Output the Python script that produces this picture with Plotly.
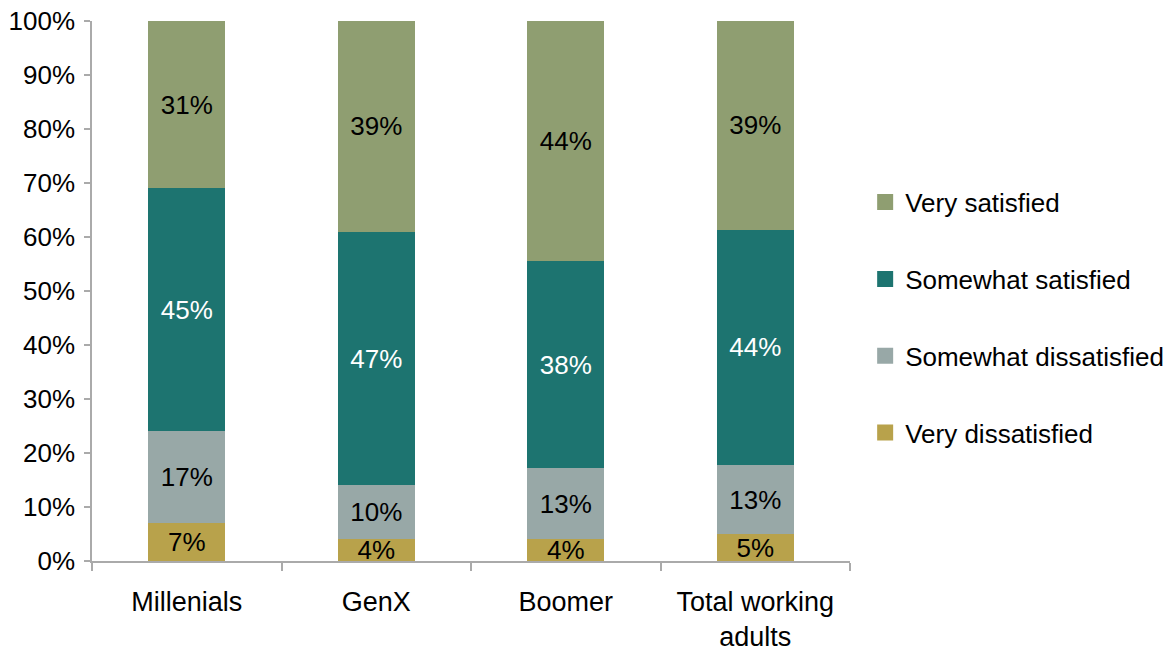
import plotly.graph_objects as go

categories = ["Millenials", "GenX", "Boomer", "Total working<br>adults"]
series_names = ["Very dissatisfied", "Somewhat dissatisfied", "Somewhat satisfied", "Very satisfied"]
very_dissatisfied = [7, 4, 4, 5]
somewhat_dissatisfied = [17, 10, 13, 13]
somewhat_satisfied = [45, 47, 38, 44]
very_satisfied = [31, 39, 44, 39]
y_ticks = [0, 10, 20, 30, 40, 50, 60, 70, 80, 90, 100]

colors = ["#b8a24b", "#98a8a7", "#1d7470", "#8f9e71"]
text_colors = ["black", "black", "white", "black"]
values = [very_dissatisfied, somewhat_dissatisfied, somewhat_satisfied, very_satisfied]

FONT = "Liberation Sans, Arial, sans-serif"

fig = go.Figure()
for name, vals, c, tc in zip(series_names, values, colors, text_colors):
    fig.add_trace(go.Bar(
        x=categories, y=vals, name=name, showlegend=False,
        marker=dict(color=c, line=dict(width=0)),
        text=[f"{v}%" for v in vals],
        textposition="inside", insidetextanchor="middle",
        constraintext="none",
        textfont=dict(color=tc, size=26, family=FONT),
        hoverinfo="skip",
    ))

# legend entries (square swatches)
for i, (name, c) in enumerate(zip(series_names, colors)):
    fig.add_trace(go.Scatter(
        x=[None], y=[None], mode="markers", name=name, legendgroup=name,
        legendrank=len(series_names) - i,
        marker=dict(symbol="square", size=21, color=c, line=dict(width=0)),
        hoverinfo="skip",
    ))

fig.update_layout(
    width=1170, height=656,
    barmode="stack", barnorm="percent", bargap=0.595,
    paper_bgcolor="white", plot_bgcolor="white",
    margin=dict(l=92, r=320, t=21, b=95, autoexpand=False),
    font=dict(family=FONT, size=26, color="black"),
    showlegend=True,
    legend=dict(
        x=1.02, y=0.708, xanchor="left", yanchor="top",
        traceorder="grouped", tracegroupgap=40,
        font=dict(size=26, family=FONT, color="black"),
        itemwidth=30, bgcolor="rgba(0,0,0,0)",
    ),
)
fig.update_yaxes(
    range=[0, 100], tickvals=y_ticks,
    ticktext=[f"{t}%" for t in y_ticks],
    showgrid=False, zeroline=False, automargin=False,
    showline=True, linecolor="#aaaaaa", linewidth=1.5,
    ticks="outside", ticklen=6, tickcolor="#aaaaaa", tickwidth=1.5,
    ticklabelstandoff=4,
    tickfont=dict(size=26, family=FONT, color="black"),
)
fig.update_xaxes(
    showgrid=False, showline=True, linecolor="#aaaaaa", linewidth=1.5,
    automargin=False,
    ticks="outside", tickson="boundaries", ticklen=8, tickcolor="#aaaaaa", tickwidth=1.5,
    ticklabelstandoff=16,
    tickfont=dict(size=27, family=FONT, color="black"),
)

post = (
    "document.body.style.margin='0';"
    "document.documentElement.style.overflow='hidden';"
    "document.body.style.overflow='hidden';"
    "var gd=document.getElementById('{plot_id}');"
    "Plotly.relayout(gd,{width:1170,height:656});"
)
fig.write_html("out.html", post_script=post,
               config={"responsive": False, "displayModeBar": False})
